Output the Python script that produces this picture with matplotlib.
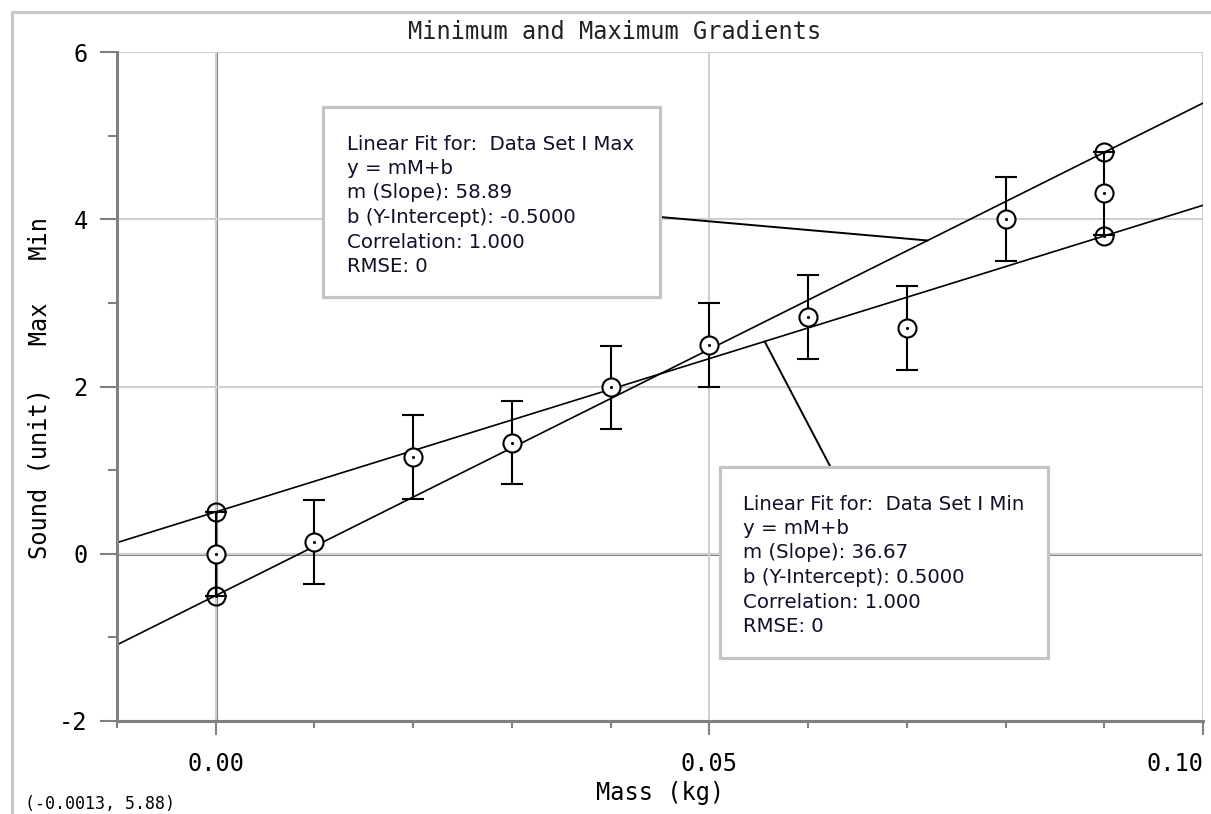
import numpy as np
import matplotlib
matplotlib.use("Agg")
import matplotlib.pyplot as plt
from matplotlib.patches import Rectangle
from matplotlib.ticker import MultipleLocator

# data
mass = [0.00, 0.01, 0.02, 0.03, 0.04, 0.05, 0.06, 0.07, 0.08, 0.09]
sound = [0.00, 0.14, 1.16, 1.33, 1.99, 2.50, 2.83, 2.70, 4.00, 4.31]
sound_err = [0.5, 0.5, 0.5, 0.5, 0.5, 0.5, 0.5, 0.5, 0.5, 0.5]

max_mass = [0.00, 0.09]
max_sound = [-0.5, 4.8]
min_mass = [0.00, 0.09]
min_sound = [0.5, 3.8]

max_slope, max_icpt = 58.89, -0.5
min_slope, min_icpt = 36.67, 0.5

x_ticks = [0.00, 0.05, 0.10]
x_tick_labels = ["0.00", "0.05", "0.10"]

max_text = ["Linear Fit for:  Data Set I Max", "y = mM+b", "m (Slope): 58.89",
            "b (Y-Intercept): -0.5000", "Correlation: 1.000", "RMSE: 0"]
min_text = ["Linear Fit for:  Data Set I Min", "y = mM+b", "m (Slope): 36.67",
            "b (Y-Intercept): 0.5000", "Correlation: 1.000", "RMSE: 0"]

W, H = 1211, 814
MONO = "DejaVu Sans Mono"
DARK = "#808080"
LIGHT = "#cfcfcf"
plt.rcParams["axes.unicode_minus"] = False


def fx(px):
    return px / W


def fy(py):
    return 1 - py / H


fig = plt.figure(figsize=(W / 100, H / 100), dpi=100)
ax = fig.add_axes([fx(117), fy(721), fx(1203 - 117), (721 - 52) / H])

# outer frame
fig.patches.append(Rectangle((fx(12), -0.1), 1.2, fy(12) + 0.1, transform=fig.transFigure,
                             fill=False, edgecolor="#c8c8c8", lw=2.3))

ax.set_xlim(-0.01, 0.10)
ax.set_ylim(-2, 6)
ax.set_xticks(x_ticks)
xt = ax.set_xticklabels(x_tick_labels, family=MONO)
xt[-1].set_horizontalalignment("right")
xt[-1].set_x(0.1)
ax.xaxis.set_minor_locator(MultipleLocator(0.01))
ax.yaxis.set_major_locator(MultipleLocator(2))
ax.yaxis.set_minor_locator(MultipleLocator(1))

for s in ["top", "right"]:
    ax.spines[s].set_visible(False)
for s in ["left", "bottom"]:
    ax.spines[s].set_color(DARK)
    ax.spines[s].set_linewidth(2.2)

ax.grid(True, which="major", color=LIGHT, lw=1.5, zorder=0)
ax.axhline(0, color=DARK, lw=2.2, zorder=1)
ax.axvline(0, color=DARK, lw=2.2, zorder=1)

ax.tick_params(axis="y", which="major", length=12, width=1.5, color=DARK, pad=9,
               labelsize=17)
ax.tick_params(axis="y", which="minor", length=6.5, width=1.5, color=DARK)
ax.tick_params(axis="x", which="major", length=10, width=1.5, color=DARK, pad=12,
               labelsize=17)
ax.tick_params(axis="x", which="minor", length=5, width=1.5, color=DARK)
for lab in ax.get_yticklabels():
    lab.set_family(MONO)

# fit lines
xs = np.array([-0.01, 0.10])
ax.plot(xs, max_slope * xs + max_icpt, color="black", lw=1.2, zorder=2)
ax.plot(xs, min_slope * xs + min_icpt, color="black", lw=1.2, zorder=2)

# data with error bars
ax.errorbar(mass, sound, yerr=sound_err, fmt="o", mfc="white", mec="black", ms=13,
            mew=1.5, ecolor="black", elinewidth=1.5, capsize=8, capthick=1.5, zorder=3)
ax.plot(max_mass, max_sound, "o", mfc="none", mec="black", ms=13, mew=1.5, zorder=4)
ax.plot(min_mass, min_sound, "o", mfc="none", mec="black", ms=13, mew=1.5, zorder=4)
ax.plot(mass + max_mass + min_mass, sound + max_sound + min_sound, ".", color="black",
        ms=2.5, zorder=5)

# leader lines
mx, nx = 0.0721, 0.0556
ax.annotate("", xy=(mx, max_slope * mx + max_icpt), xytext=(fx(660), fy(217)),
            textcoords="figure fraction",
            arrowprops=dict(arrowstyle="-", color="black", lw=1.4, shrinkA=0, shrinkB=0))
ax.annotate("", xy=(nx, min_slope * nx + min_icpt), xytext=(fx(830), fy(466)),
            textcoords="figure fraction",
            arrowprops=dict(arrowstyle="-", color="black", lw=1.4, shrinkA=0, shrinkB=0))

# fit boxes
for (x0, y0, x1, y1, tx, ty, lines) in [(323, 107, 660, 297, 347, 144, max_text),
                                        (720, 467, 1048, 658, 743, 504, min_text)]:
    fig.patches.append(Rectangle((fx(x0), fy(y1)), (x1 - x0) / W, (y1 - y0) / H,
                                 transform=fig.transFigure, facecolor="white",
                                 edgecolor="#c4c4c4", lw=2.3, zorder=6))
    for i, line in enumerate(lines):
        fig.text(fx(tx), fy(ty + i * 24.5), line, fontsize=14.2, color="#101028",
                 va="center", ha="left", zorder=7)

# labels
fig.text(fx(615), fy(32), "Minimum and Maximum Gradients", family=MONO, fontsize=17,
         ha="center", va="center", color="#222222")
fig.text(fx(40), fy(388), "Sound (unit)   Max   Min", family=MONO, fontsize=17,
         rotation=90, ha="center", va="center")
ax.set_xlabel("Mass (kg)", family=MONO, fontsize=17, labelpad=4)
fig.text(fx(25), fy(813), "(-0.0013, 5.88)", family=MONO, fontsize=12,
         ha="left", va="bottom")

fig.savefig("out.png", dpi=100)
